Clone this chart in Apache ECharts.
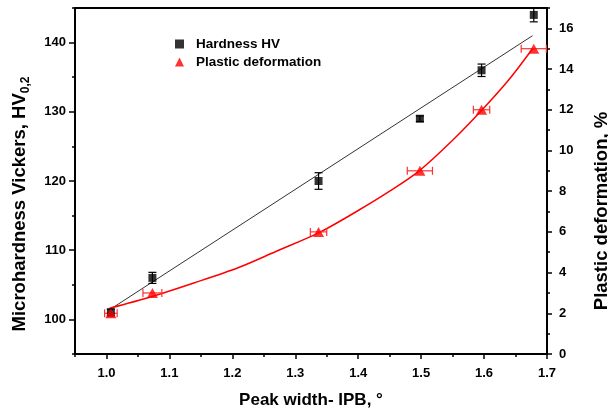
<!DOCTYPE html>
<html>
<head>
<meta charset="utf-8">
<script src="https://cdn.jsdelivr.net/npm/echarts@6/dist/echarts.min.js"></script>
<style>
html,body{margin:0;padding:0;background:#fff;}
#c{width:608px;height:412px;}
</style>
</head>
<body>
<div id="c"></div>
<script>
// ---- data ----
const hvX = [1.007, 1.073, 1.337, 1.498, 1.596, 1.679];
const hvY = [101, 106, 120, 129, 136, 144];
const hvErr = [0.5, 0.8, 1.2, 0.4, 0.9, 1.0];

const pdX = [1.007, 1.073, 1.337, 1.498, 1.596, 1.679];
const pdY = [2, 3, 6, 9, 12, 15];
const pdXErr = [0.01, 0.015, 0.013, 0.02, 0.013, 0.02];

const hvFitX = [1.005, 1.677];
const hvFitY = [101.4, 141.0];

const pdFitX = [1.005, 1.07, 1.14, 1.21, 1.27, 1.337, 1.40, 1.45, 1.497, 1.55, 1.597, 1.64, 1.677];
const pdFitY = [2.25, 2.8, 3.5, 4.25, 5.05, 5.95, 7.05, 8.0, 9.0, 10.5, 12.0, 13.5, 15.0];

const xTicks = [1.0, 1.1, 1.2, 1.3, 1.4, 1.5, 1.6, 1.7];
const leftTicks = [100, 110, 120, 130, 140];
const rightTicks = [0, 2, 4, 6, 8, 10, 12, 14, 16];

const FONT = 'Liberation Sans';
const labelStyle = {color: '#000', fontWeight: 'bold', fontSize: 13, fontFamily: FONT};
const nameStyle = {color: '#000', fontWeight: 'bold', fontSize: 17, fontFamily: FONT};
const yNameStyle = {color: '#000', fontWeight: 'bold', fontSize: 18.5, fontFamily: FONT};

const chart = echarts.init(document.getElementById('c'), null, {renderer: 'canvas'});

function errY(params, api) {
  const x = api.value(0), lo = api.value(1), hi = api.value(2);
  const a = api.coord([x, hi]), b = api.coord([x, lo]);
  const w = 4;
  const st = {stroke: '#000', lineWidth: 1.2};
  return {type: 'group', children: [
    {type: 'line', shape: {x1: a[0], y1: a[1], x2: b[0], y2: b[1]}, style: st},
    {type: 'line', shape: {x1: a[0]-w, y1: a[1], x2: a[0]+w, y2: a[1]}, style: st},
    {type: 'line', shape: {x1: b[0]-w, y1: b[1], x2: b[0]+w, y2: b[1]}, style: st}
  ]};
}
function errX(params, api) {
  const lo = api.value(0), hi = api.value(1), y = api.value(2);
  const a = api.coord([lo, y]), b = api.coord([hi, y]);
  const h = 4;
  const st = {stroke: '#ff3030', lineWidth: 1.2};
  return {type: 'group', children: [
    {type: 'line', shape: {x1: a[0], y1: a[1], x2: b[0], y2: b[1]}, style: st},
    {type: 'line', shape: {x1: a[0], y1: a[1]-h, x2: a[0], y2: a[1]+h}, style: st},
    {type: 'line', shape: {x1: b[0], y1: b[1]-h, x2: b[0], y2: b[1]+h}, style: st}
  ]};
}

const option = {
  animation: false,
  backgroundColor: '#fff',
  grid: {left: 75, right: 61, top: 8, bottom: 58, show: true, borderColor: '#000', borderWidth: 2,
    backgroundColor: 'transparent', containLabel: false, outerBoundsMode: 'none'},
  legend: {
    orient: 'vertical', left: 170, top: 32, itemWidth: 9, itemHeight: 9, itemGap: 4,
    textStyle: {color: '#000', fontWeight: 'bold', fontSize: 13.5, fontFamily: FONT, padding: [0, 0, 0, 7]},
    data: [{name: 'Hardness HV', icon: 'rect'}, {name: 'Plastic deformation', icon: 'triangle'}]
  },
  xAxis: [
    {
      type: 'value', min: 0.95, max: 1.7, position: 'bottom',
      name: 'Peak width- IPB, °', nameLocation: 'middle', nameGap: 38, nameTextStyle: nameStyle,
      axisLine: {show: true, onZero: false, lineStyle: {color: '#000', width: 2}},
      axisTick: {show: true, length: 5, lineStyle: {color: '#000', width: 1.5}, customValues: xTicks},
      axisLabel: {...labelStyle, margin: 13, customValues: xTicks, formatter: v => v.toFixed(1)},
      splitLine: {show: false}
    },
    {
      type: 'value', min: 0.95, max: 1.7, interval: 0.05, position: 'bottom',
      axisLine: {show: false}, axisTick: {show: true, length: 3, lineStyle: {color: '#000', width: 1.5}},
      axisLabel: {show: false}, splitLine: {show: false}
    }
  ],
  yAxis: [
    {
      type: 'value', min: 95, max: 145, position: 'left',
      name: '{a|Microhardness Vickers, HV}{s|0,2}', nameLocation: 'middle', nameRotate: 90, nameGap: 43,
      nameTextStyle: {...yNameStyle, padding: [0, 46, 0, 0],
        rich: {a: {...yNameStyle, lineHeight: 24}, s: {...yNameStyle, fontSize: 12, lineHeight: 24, verticalAlign: 'bottom'}}},
      axisLine: {show: true, onZero: false, lineStyle: {color: '#000', width: 2}},
      axisTick: {show: true, length: 6, lineStyle: {color: '#000', width: 1.5}, customValues: leftTicks},
      axisLabel: {...labelStyle, margin: 9, customValues: leftTicks},
      splitLine: {show: false}
    },
    {
      type: 'value', min: 0, max: 17, position: 'right',
      name: 'Plastic deformation, %', nameLocation: 'middle', nameRotate: 90, nameGap: 45,
      nameTextStyle: {...yNameStyle, padding: [0, 60, 0, 0]},
      axisLine: {show: true, onZero: false, lineStyle: {color: '#000', width: 2}},
      axisTick: {show: true, length: 5, lineStyle: {color: '#000', width: 1.5}, customValues: rightTicks},
      axisLabel: {...labelStyle, margin: 12, customValues: rightTicks},
      splitLine: {show: false}
    },
    {
      type: 'value', min: 95, max: 145, interval: 5, position: 'left',
      axisLine: {show: false}, axisTick: {show: true, length: 3, lineStyle: {color: '#000', width: 1.5}},
      axisLabel: {show: false}, splitLine: {show: false}
    },
    {
      type: 'value', min: 0, max: 17, interval: 1, position: 'right',
      axisLine: {show: false}, axisTick: {show: true, length: 3, lineStyle: {color: '#000', width: 1.5}},
      axisLabel: {show: false}, splitLine: {show: false}
    }
  ],
  series: [
    {
      name: 'HV fit', type: 'line', xAxisIndex: 0, yAxisIndex: 0, showSymbol: false, silent: true,
      lineStyle: {color: '#333', width: 1}, data: hvFitX.map((x, i) => [x, hvFitY[i]]), z: 2
    },
    {
      name: 'PD fit', type: 'line', xAxisIndex: 0, yAxisIndex: 1, showSymbol: false, silent: true,
      smooth: 0.3,
      lineStyle: {color: '#ff0000', width: 1.5}, data: pdFitX.map((x, i) => [x, pdFitY[i]]), z: 2
    },
    {
      name: 'HV err', type: 'custom', xAxisIndex: 0, yAxisIndex: 0, renderItem: errY, z: 3,
      data: hvX.map((x, i) => [x, hvY[i] - hvErr[i], hvY[i] + hvErr[i]])
    },
    {
      name: 'PD err', type: 'custom', xAxisIndex: 0, yAxisIndex: 1, renderItem: errX, z: 3,
      data: pdX.map((x, i) => [x - pdXErr[i], x + pdXErr[i], pdY[i]])
    },
    {
      name: 'Hardness HV', type: 'scatter', xAxisIndex: 0, yAxisIndex: 0, symbol: 'rect', symbolSize: 8,
      itemStyle: {color: '#000'}, data: hvX.map((x, i) => [x, hvY[i]]), z: 4
    },
    {
      name: 'Plastic deformation', type: 'scatter', xAxisIndex: 0, yAxisIndex: 1, symbol: 'triangle', symbolSize: [11, 10],
      itemStyle: {color: '#ff0000'}, data: pdX.map((x, i) => [x, pdY[i]]), z: 4
    }
  ]
};
chart.setOption(option);
</script>
</body>
</html>
